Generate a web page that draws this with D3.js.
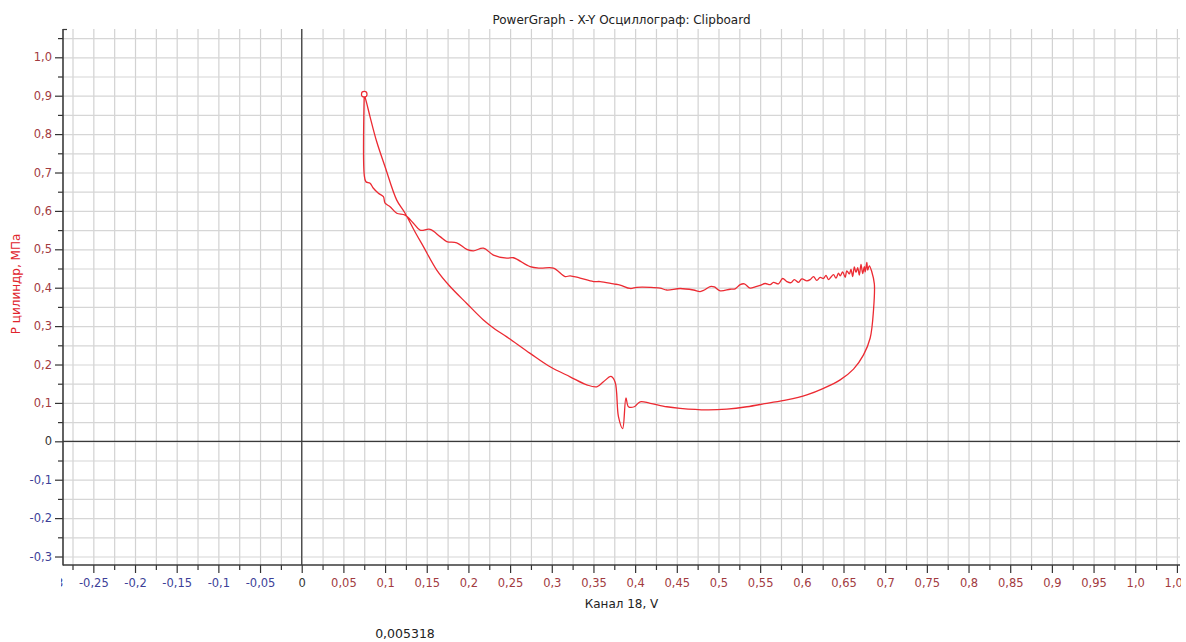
<!DOCTYPE html>
<html><head><meta charset="utf-8">
<script src="https://cdn.jsdelivr.net/npm/d3@7"></script>
<style>
body{margin:0;background:#fff;}
svg{display:block;font-family:"DejaVu Sans",Verdana,sans-serif;}
</style>
</head><body>
<svg id="chart" width="1186" height="642"></svg>
<script>
// ---- text ----
const titleText = "PowerGraph - X-Y Осциллограф: Clipboard";
const xTitleText = "Канал 18, V";
const yTitleText = "P цилиндр, МПа";
const footnoteText = "0,005318";

// ---- curve data (Канал 18, V  vs  P цилиндр, МПа) ----
const curveX = [0.075,0.078,0.082,0.090,0.100,0.114,0.124,0.136,0.146,0.162,0.178,0.198,0.218,0.232,0.246,0.274,0.298,0.322,0.342,0.354,0.362,0.371,0.376,0.380,0.385,0.389,0.392,0.399,0.406,0.418,0.438,0.454,0.486,0.510,0.534,0.558,0.582,0.606,0.626,0.646,0.662,0.674,0.682,0.686,0.687,0.684,0.681,
0.679,0.678,0.676,0.675,0.673,0.671,0.669,0.667,0.665,0.663,0.661,0.659,0.657,0.654,0.652,0.649,0.646,0.644,0.641,0.638,0.635,0.632,0.629,0.626,0.622,0.618,0.614,0.610,0.606,0.600,0.596,0.591,0.587,0.582,0.577,0.572,0.566,0.562,0.556,0.550,0.544,0.538,0.531,0.526,0.520,0.514,0.502,0.495,0.490,0.483,0.478,0.470,0.454,0.438,0.430,0.418,0.402,0.394,0.382,0.374,0.358,0.350,0.334,0.322,0.316,0.302,0.286,0.274,0.254,0.246,0.230,0.218,0.206,0.198,0.186,0.174,0.166,0.154,0.142,0.134,0.124,0.114,0.106,0.100,0.098,0.092,0.086,0.082,0.077,0.075,0.075];
const curveY = [0.904,0.880,0.845,0.780,0.715,0.628,0.594,0.545,0.507,0.446,0.403,0.359,0.316,0.292,0.272,0.229,0.194,0.168,0.147,0.142,0.155,0.169,0.154,0.064,0.033,0.113,0.090,0.090,0.103,0.099,0.090,0.086,0.082,0.084,0.090,0.099,0.108,0.121,0.138,0.160,0.188,0.225,0.269,0.342,0.410,0.441,0.457,
0.446,0.466,0.441,0.455,0.437,0.461,0.433,0.452,0.440,0.454,0.429,0.448,0.436,0.444,0.427,0.441,0.431,0.438,0.425,0.434,0.428,0.421,0.432,0.424,0.427,0.419,0.429,0.421,0.418,0.423,0.414,0.421,0.413,0.416,0.424,0.410,0.414,0.408,0.411,0.406,0.402,0.399,0.410,0.408,0.397,0.396,0.392,0.402,0.403,0.394,0.390,0.394,0.398,0.394,0.399,0.401,0.401,0.398,0.407,0.410,0.416,0.416,0.425,0.431,0.429,0.451,0.451,0.455,0.478,0.477,0.485,0.503,0.496,0.500,0.517,0.520,0.533,0.552,0.550,0.568,0.589,0.594,0.611,0.620,0.637,0.646,0.659,0.672,0.676,0.694,0.904];
const markerX = [0.075];
const markerY = [0.904];

// ---- ticks ----
const xMajorTicks = [-0.3,-0.25,-0.2,-0.15,-0.1,-0.05,0,0.05,0.1,0.15,0.2,0.25,0.3,0.35,0.4,0.45,0.5,0.55,0.6,0.65,0.7,0.75,0.8,0.85,0.9,0.95,1.0,1.05];
const xMinorTicks = [-0.275,-0.225,-0.175,-0.125,-0.075,-0.025,0.025,0.075,0.125,0.175,0.225,0.275,0.325,0.375,0.425,0.475,0.525,0.575,0.625,0.675,0.725,0.775,0.825,0.875,0.925,0.975,1.025];
const yMajorTicks = [-0.3,-0.2,-0.1,0,0.1,0.2,0.3,0.4,0.5,0.6,0.7,0.8,0.9,1.0];
const yMinorTicks = [-0.25,-0.15,-0.05,0.05,0.15,0.25,0.35,0.45,0.55,0.65,0.75,0.85,0.95,1.05];

const W = 1186, H = 642;
const L = 63, R = 1180, T = 29, B = 565;
const x = d3.scaleLinear().domain([-0.2864, 1.0537]).range([L, R]);
const y = d3.scaleLinear().domain([-0.3221, 1.0737]).range([B, T]);

const svg = d3.select("#chart");
const posColor = "#a23b3f", negColor = "#3d3f98", zeroColor = "#333";
const colorOf = v => Math.abs(v) < 1e-9 ? zeroColor : (v > 0 ? posColor : negColor);
const fmt = v => {
  if (Math.abs(v) < 1e-9) return "0";
  let s = (+v.toFixed(2)).toString();
  if (s.indexOf(".") < 0) s += ".0";
  return s.replace(".", ",");
};

svg.append("defs").append("clipPath").attr("id","lblclip")
  .append("rect").attr("x",61).attr("y",0).attr("width",1120).attr("height",H);

// ---- grid ----
const gridX = xMajorTicks.concat(xMinorTicks).filter(v => v > x.domain()[0] && v <= x.domain()[1] + 1e-9);
const gridY = yMajorTicks.concat(yMinorTicks).filter(v => v > y.domain()[0] && v <= y.domain()[1]);
const gx = svg.append("g").attr("transform",`translate(0,${B})`)
  .call(d3.axisBottom(x).tickValues(gridX).tickSize(-(B-T)).tickFormat(""));
gx.select(".domain").remove();
gx.selectAll("line").attr("stroke","#d2d2d2").attr("stroke-width",1.2);
const gy = svg.append("g").attr("transform",`translate(${L},0)`)
  .call(d3.axisLeft(y).tickValues(gridY).tickSize(-(R-L)).tickFormat(""));
gy.select(".domain").remove();
gy.selectAll("line").attr("stroke","#d6d6d6").attr("stroke-width",1.2);

// ---- zero lines ----
svg.append("line").attr("x1",x(0)).attr("x2",x(0)).attr("y1",T).attr("y2",B)
  .attr("stroke","#3a3a3a").attr("stroke-width",1.2);
svg.append("line").attr("x1",L).attr("x2",R).attr("y1",y(0)).attr("y2",y(0))
  .attr("stroke","#3a3a3a").attr("stroke-width",1.2);

// ---- axes ----
const xAxisG = svg.append("g").attr("transform",`translate(0,${B})`).attr("clip-path","url(#lblclip)");
xAxisG.call(d3.axisBottom(x).tickValues(xMajorTicks).tickSize(8).tickPadding(6).tickFormat(fmt));
xAxisG.select(".domain").remove();
xAxisG.selectAll("line").attr("stroke","#333").attr("stroke-width",1.2);
xAxisG.selectAll("text").attr("font-size",11.5).attr("font-family","DejaVu Sans, Verdana, sans-serif")
  .attr("fill", d => colorOf(d));
const xMinorG = svg.append("g").attr("transform",`translate(0,${B})`)
  .call(d3.axisBottom(x).tickValues(xMinorTicks.filter(v => v > x.domain()[0])).tickSize(5).tickFormat(""));
xMinorG.select(".domain").remove();
xMinorG.selectAll("line").attr("stroke","#333").attr("stroke-width",1.2);

const yAxisG = svg.append("g").attr("transform",`translate(${L},0)`);
yAxisG.call(d3.axisLeft(y).tickValues(yMajorTicks).tickSize(8).tickPadding(3).tickFormat(fmt));
yAxisG.select(".domain").remove();
yAxisG.selectAll("line").attr("stroke","#333").attr("stroke-width",1.2);
yAxisG.selectAll("text").attr("font-size",11.5).attr("font-family","DejaVu Sans, Verdana, sans-serif")
  .attr("fill", d => colorOf(d));
const yMinorG = svg.append("g").attr("transform",`translate(${L},0)`)
  .call(d3.axisLeft(y).tickValues(yMinorTicks).tickSize(5).tickFormat(""));
yMinorG.select(".domain").remove();
yMinorG.selectAll("line").attr("stroke","#333").attr("stroke-width",1.2);

// axis lines
svg.append("line").attr("x1",L).attr("x2",L).attr("y1",T).attr("y2",B+0.5)
  .attr("stroke","#3a3a3a").attr("stroke-width",1.6);
svg.append("line").attr("x1",L).attr("x2",L+4).attr("y1",T+0.5).attr("y2",T+0.5)
  .attr("stroke","#3a3a3a").attr("stroke-width",1.2);
svg.append("line").attr("x1",L).attr("x2",R).attr("y1",B).attr("y2",B)
  .attr("stroke","#3a3a3a").attr("stroke-width",1.6);

// ---- curve ----
const pts = curveX.map((v,i) => [v, curveY[i]]);
svg.append("path").datum(pts)
  .attr("d", d3.line().x(d => x(d[0])).y(d => y(d[1])).curve(d3.curveCatmullRom.alpha(0.5)))
  .attr("fill","none").attr("stroke","#ec2a32").attr("stroke-width",1.3)
  .attr("stroke-linejoin","round");
svg.selectAll("circle.mk").data(markerX.map((v,i)=>[v,markerY[i]])).join("circle")
  .attr("class","mk").attr("cx",d=>x(d[0])).attr("cy",d=>y(d[1])).attr("r",2.8)
  .attr("fill","#fff").attr("stroke","#ec2a32").attr("stroke-width",1.2);

// ---- titles ----
svg.append("text").attr("x",(L+R)/2).attr("y",24).attr("text-anchor","middle")
  .attr("font-size",12).attr("fill","#222").text(titleText);
svg.append("text").attr("x",(L+R)/2).attr("y",608).attr("text-anchor","middle")
  .attr("font-size",12).attr("fill","#222").text(xTitleText);
svg.append("text").attr("transform","translate(20,284) rotate(-90)").attr("text-anchor","middle")
  .attr("font-size",12).attr("fill","#e0242c").text(yTitleText);
svg.append("text").attr("x",405).attr("y",638).attr("text-anchor","middle")
  .attr("font-size",12.5).attr("fill","#222").text(footnoteText);
</script>
</body></html>
